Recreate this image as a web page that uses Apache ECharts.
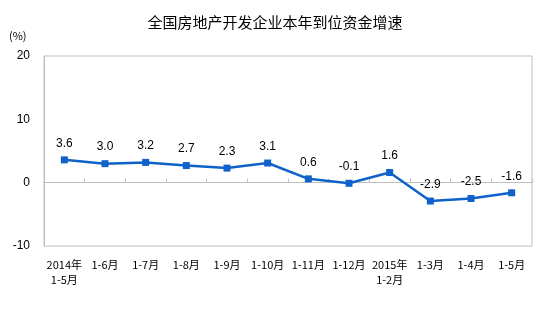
<!DOCTYPE html>
<html>
<head>
<meta charset="utf-8">
<script src="https://cdn.jsdelivr.net/npm/echarts@6/dist/echarts.min.js"></script>
<style>
html,body{margin:0;padding:0;background:#fff;}
#chart{width:550px;height:327px;}
</style>
</head>
<body>
<div id="chart"></div>
<script>
// Period labels (cumulative months)
const categories = ['2014年\n1-5月', '1-6月', '1-7月', '1-8月', '1-9月', '1-10月', '1-11月', '1-12月', '2015年\n1-2月', '1-3月', '1-4月', '1-5月'];
// Growth rate of funds in place, %
const growth = [3.6, 3.0, 3.2, 2.7, 2.3, 3.1, 0.6, -0.1, 1.6, -2.9, -2.5, -1.6];
// Value axis ticks
const yTicks = [-10, 0, 10, 20];

const frameColor = '#bfbfbf';
const lineColor = '#0f62c9';

const chart = echarts.init(document.getElementById('chart'));
chart.setOption({
  backgroundColor: '#fff',
  animation: false,
  title: {
    text: '全国房地产开发企业本年到位资金增速',
    left: 'center',
    top: 10,
    textStyle: { fontFamily: 'Noto Sans CJK SC', fontSize: 15, fontWeight: 'normal', color: '#000' }
  },
  graphic: [
    {
      type: 'text', left: 9, top: 30,
      style: { text: '(%)', font: '11px "Noto Sans CJK SC"', fill: '#000' }
    }
  ],
  grid: { left: 44, right: 18, top: 56, bottom: 81, show: true, borderColor: frameColor, borderWidth: 1 },
  xAxis: {
    type: 'category',
    data: categories,
    boundaryGap: true,
    axisLine: { show: true, lineStyle: { color: frameColor } },
    axisTick: { show: true, inside: true, length: 4, lineStyle: { color: frameColor } },
    axisLabel: {
      interval: 0, margin: 11, color: '#000', fontSize: 11, lineHeight: 15,
      fontFamily: 'Noto Sans CJK SC'
    }
  },
  yAxis: {
    type: 'value',
    min: yTicks[0], max: yTicks[yTicks.length - 1], interval: 10,
    splitLine: { show: false },
    axisLine: { show: true, lineStyle: { color: frameColor } },
    axisTick: { show: false },
    axisLabel: { color: '#000', fontSize: 12, fontFamily: 'Liberation Sans', margin: 14 }
  },
  series: [{
    type: 'line',
    data: growth,
    symbol: 'rect',
    symbolSize: 7,
    lineStyle: { color: lineColor, width: 2.5 },
    itemStyle: { color: lineColor },
    label: {
      show: true, position: 'top', distance: 7,
      color: '#000', fontSize: 12, fontFamily: 'Liberation Sans',
      formatter: p => p.value.toFixed(1)
    }
  }]
});
</script>
</body>
</html>
